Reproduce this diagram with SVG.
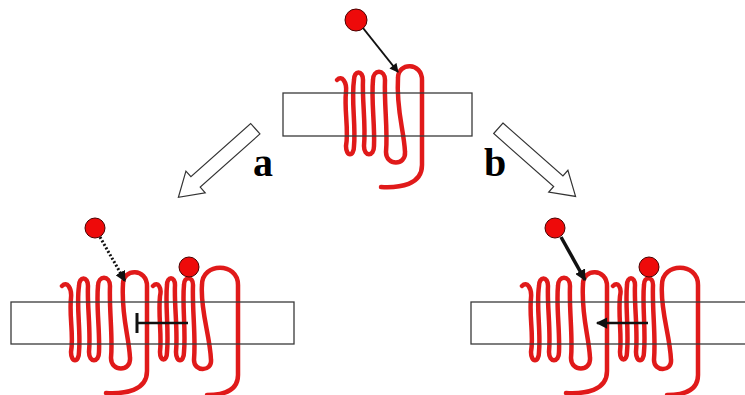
<svg xmlns="http://www.w3.org/2000/svg" xmlns:xlink="http://www.w3.org/1999/xlink" width="745" height="395" viewBox="0 0 745 395">
<style>
.coil{fill:none;stroke:#e01a1a;stroke-width:4.5;stroke-linecap:round;stroke-linejoin:round}
.mem{fill:none;stroke:#3a3a3a;stroke-width:1.3}
.ball{fill:#ee0a0a;stroke:#4a0000;stroke-width:1}
.big{fill:#fff;stroke:#333;stroke-width:1.2}
.lbl{font-family:"Liberation Serif",serif;font-weight:bold;font-size:40px;fill:#000}
.con{fill:none;stroke:#111;stroke-linecap:butt}
</style>
<defs>
<marker id="ah" viewBox="0 0 10 10" refX="9" refY="5" markerWidth="5" markerHeight="4.5" orient="auto" markerUnits="strokeWidth">
<path d="M0,0 L10,5 L0,10 z" fill="#111"/>
</marker>
<marker id="ah3" viewBox="0 0 10 10" refX="9" refY="5" markerWidth="3.6" markerHeight="3.6" orient="auto" markerUnits="strokeWidth">
<path d="M0,0 L10,5 L0,10 z" fill="#111"/>
</marker>
<marker id="ah2" viewBox="0 0 10 10" refX="9" refY="5" markerWidth="3.2" markerHeight="3.2" orient="auto" markerUnits="strokeWidth">
<path d="M0,0 L10,5 L0,10 z" fill="#111"/>
</marker>
<path id="gpcr" d="M337 80 C342 75,347 82,346 92 C344 110,349 130,346 146 C346 157,354 157,354 146 C356 125,351 100,354 80 C354 70,363 70,363 80 C362 100,366 125,364 146 C364 157,374 157,374 146 C375 125,371 100,373 80 C373 69,385 69,385 80 C384 105,388 130,386 152 C386 166,406 166,405 152 C404 130,396 110,398 78 C398 62,422 62,422 80 L422 165 C422 185,400 188,381 187"/>
<path id="gpcr2" d="M153 286 C158 281,162 288,160 296 C158 315,162 335,160 352 C160 362,167 362,167 352 C169 330,165 305,167 285 C167 276,175 276,175 285 C174 305,178 330,176 352 C176 363,184 363,184 352 C186 330,182 305,184 285 C184 276,193 276,193 285 C192 310,196 335,194 360 C194 372,212 372,211 360 C210 335,200 310,202 285 C202 262,238 262,238 285 L238 375 C238 392,222 395,207 395"/>
<polygon id="hollow" points="0,-7 80,-7 80,-14.5 103,0 80,14.5 80,7 0,7"/>
</defs>

<g id="top-receptor">
<use xlink:href="#gpcr" class="coil"/>
<rect class="mem" x="283" y="93" width="189" height="43"/>
<circle class="ball" cx="356" cy="20" r="11"/>
</g>

<g id="left-dimer">
<use xlink:href="#gpcr" class="coil" transform="translate(-275,206)"/>
<use xlink:href="#gpcr2" class="coil"/>
<rect class="mem" x="11" y="302" width="283" height="42"/>
<circle class="ball" cx="95" cy="228" r="10"/>
<circle class="ball" cx="189" cy="267" r="10"/>
</g>

<g id="right-dimer">
<use xlink:href="#gpcr" class="coil" transform="translate(185,206)"/>
<use xlink:href="#gpcr2" class="coil" transform="translate(460,0)"/>
<rect class="mem" x="471" y="302" width="290" height="42"/>
<circle class="ball" cx="555" cy="228" r="10"/>
<circle class="ball" cx="649" cy="267" r="10"/>
</g>

<g id="label-a"><text class="lbl" x="253" y="176">a</text></g>
<g id="label-b"><text class="lbl" x="484" y="176">b</text></g>

<g id="connectors">
<use xlink:href="#hollow" class="big" transform="translate(255.3,128.7) rotate(138.3)"/>
<use xlink:href="#hollow" class="big" transform="translate(498.3,128.3) rotate(41.4)"/>
<line class="con" x1="363" y1="28" x2="398" y2="72" stroke-width="2" marker-end="url(#ah)"/>
<line class="con" x1="100" y1="237" x2="125" y2="281" stroke-width="3" stroke-dasharray="2,2" marker-end="url(#ah3)"/>
<line class="con" x1="188" y1="323" x2="137" y2="323" stroke-width="2.5"/>
<line class="con" x1="137" y1="313" x2="137" y2="333" stroke-width="3"/>
<line class="con" x1="561" y1="237" x2="585" y2="280" stroke-width="3.5" marker-end="url(#ah2)"/>
<line class="con" x1="648" y1="323" x2="597" y2="323" stroke-width="2.5" marker-end="url(#ah)"/>
</g>
</svg>
